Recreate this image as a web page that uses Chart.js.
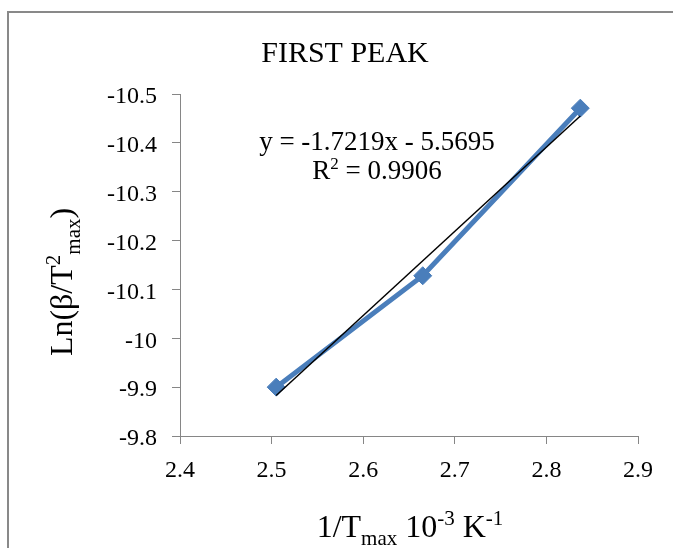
<!DOCTYPE html>
<html>
<head>
<meta charset="utf-8">
<script src="https://cdn.jsdelivr.net/npm/chart.js@4"></script>
<style>
  html, body { margin: 0; padding: 0; background: #ffffff; }
  #wrap { width: 673px; height: 548px; position: relative; }
</style>
</head>
<body>
<div id="wrap"><canvas id="c" width="673" height="548"></canvas></div>
<script>
// ---- data ----
const xValues = [2.505, 2.665, 2.837];
const yValues = [-9.900, -10.128, -10.471];
const trendX = [2.505, 2.837];
const trendY = [-9.883, -10.455];
const xTicks = [2.4, 2.5, 2.6, 2.7, 2.8, 2.9];
const yTicks = [-10.5, -10.4, -10.3, -10.2, -10.1, -10, -9.9, -9.8];
const chartTitle = 'FIRST PEAK';
const equationText = 'y = -1.7219x - 5.5695';
const r2Value = '0.9906';

const FONT = '"Liberation Serif", "Times New Roman", serif';
const AXIS_GREY = '#868686';
const BLUE = '#4A7EBB';

function drawRich(ctx, segs, x, y, align) {
  let total = 0;
  segs.forEach(s => { ctx.font = s.size + 'px ' + FONT; s.w = ctx.measureText(s.t).width; total += s.w; });
  let cx = align === 'center' ? x - total / 2 : x;
  segs.forEach(s => {
    ctx.font = s.size + 'px ' + FONT;
    ctx.fillText(s.t, cx, y + (s.dy || 0));
    cx += s.w;
  });
}

const textPlugin = {
  id: 'textPlugin',
  afterDraw(chart) {
    const ctx = chart.ctx;
    const area = chart.chartArea;
    ctx.save();
    // outer frame (cropped on right and bottom)
    ctx.strokeStyle = '#898989';
    ctx.lineWidth = 2;
    ctx.beginPath();
    ctx.moveTo(8, 560);
    ctx.lineTo(8, 12);
    ctx.lineTo(680, 12);
    ctx.stroke();

    ctx.fillStyle = '#000000';
    ctx.textBaseline = 'alphabetic';
    ctx.textAlign = 'left';
    // title
    drawRich(ctx, [{t: chartTitle, size: 30}], 345, 62, 'center');
    // equation + R²
    drawRich(ctx, [{t: equationText, size: 27}], 377, 150, 'center');
    drawRich(ctx, [{t: 'R', size: 27}, {t: '2', size: 17, dy: -10}, {t: ' = ' + r2Value, size: 27}], 377, 179, 'center');
    // x axis title
    const xc = (area.left + area.right) / 2;
    drawRich(ctx, [
      {t: '1/T', size: 32}, {t: 'max', size: 21, dy: 8},
      {t: ' 10', size: 32}, {t: '-3', size: 21, dy: -12},
      {t: ' K', size: 32}, {t: '-1', size: 21, dy: -12}
    ], xc + 1, 537, 'center');
    // y axis title (rotated)
    ctx.translate(72, 282);
    ctx.rotate(-Math.PI / 2);
    drawRich(ctx, [
      {t: 'Ln(β/T', size: 32}, {t: '2', size: 21, dy: -12},
      {t: 'max', size: 21, dy: 8}, {t: ')', size: 32}
    ], 0, 0, 'center');
    ctx.restore();
  }
};

new Chart(document.getElementById('c'), {
  type: 'scatter',
  data: {
    datasets: [
      {
        label: 'Linear trend',
        data: trendX.map((x, i) => ({x: x, y: trendY[i]})),
        showLine: true,
        borderColor: '#000000',
        borderWidth: 1.5,
        pointRadius: 0,
        order: 0
      },
      {
        label: 'First peak',
        data: xValues.map((x, i) => ({x: x, y: yValues[i]})),
        showLine: true,
        borderColor: BLUE,
        backgroundColor: BLUE,
        borderWidth: 5,
        pointStyle: 'rectRot',
        pointRadius: 9,
        pointBorderWidth: 1,
        pointBorderColor: BLUE,
        pointBackgroundColor: BLUE,
        order: 1
      }
    ]
  },
  options: {
    responsive: false,
    animation: false,
    devicePixelRatio: 1,
    layout: { padding: { top: 94, right: 35, left: 0, bottom: 0 } },
    plugins: {
      legend: { display: false },
      title: { display: false },
      tooltip: { enabled: false }
    },
    scales: {
      x: {
        type: 'linear',
        min: 2.4, max: 2.9,
        afterBuildTicks: s => { s.ticks = xTicks.map(v => ({value: v})); },
        afterFit: s => { s.height = 112; },
        grid: { drawOnChartArea: false, drawTicks: true, tickLength: 8, color: AXIS_GREY },
        border: { color: AXIS_GREY, width: 1 },
        ticks: { color: '#000', font: { family: FONT, size: 24 }, padding: 12, maxRotation: 0,
                 callback: v => String(v) }
      },
      y: {
        type: 'linear',
        reverse: true,
        min: -10.5, max: -9.8,
        afterBuildTicks: s => { s.ticks = yTicks.map(v => ({value: v})); },
        afterFit: s => { s.width = 180; },
        grid: { drawOnChartArea: false, drawTicks: true, tickLength: 8, color: AXIS_GREY },
        border: { color: AXIS_GREY, width: 1 },
        ticks: { color: '#000', font: { family: FONT, size: 24 }, padding: 15, labelOffset: 3,
                 callback: v => String(v) }
      }
    }
  },
  plugins: [textPlugin]
});
</script>
</body>
</html>
